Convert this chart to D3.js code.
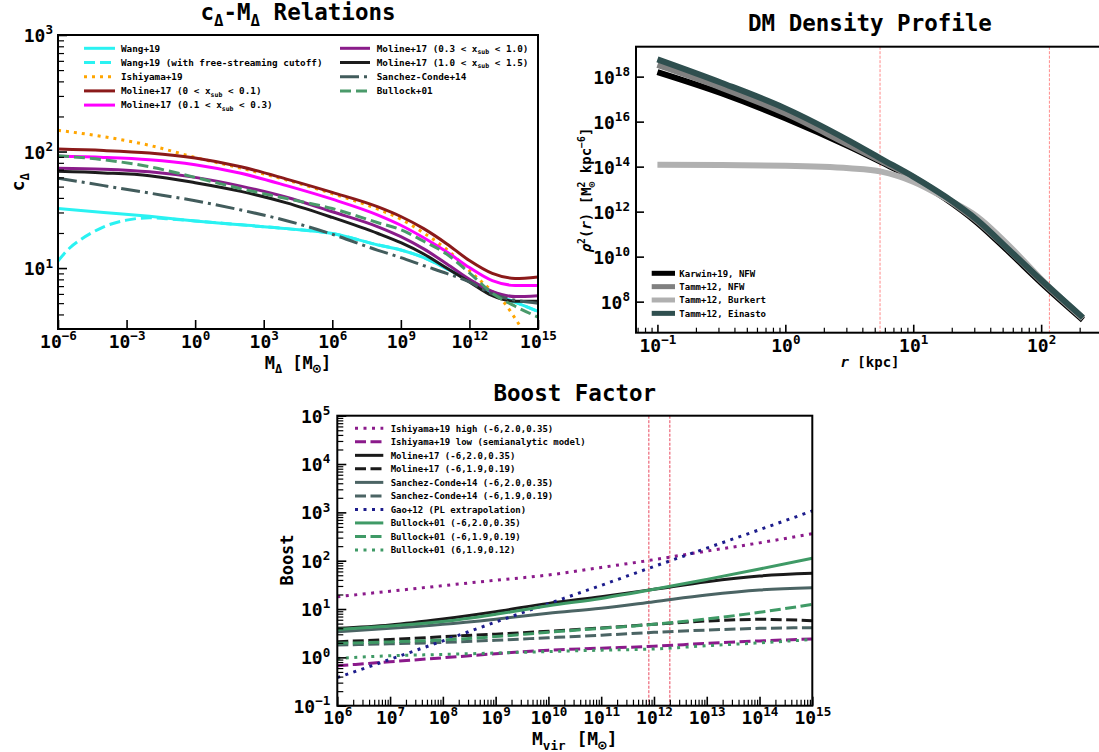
<!DOCTYPE html>
<html>
<head>
<meta charset="utf-8">
<script src="https://cdn.jsdelivr.net/npm/d3@7"></script>
<style>
  body { margin: 0; background: #fff; }
  svg { display: block; }
  svg text { font-family: "DejaVu Sans Mono", monospace; font-weight: bold; fill: #000; }
</style>
</head>
<body>
<svg id="fig" width="1099" height="752"></svg>
<script>
// ---------------- c(M) relations ----------------
const cmMass = [1e-6, 1e-4, 1e-2, 1, 1e2, 1e4, 1e6, 1e8, 1e9, 1e10, 1e11, 1e12, 1e13, 1e14, 1e15];
const cWang19     = [32.4, 30.0, 27.8, 25.4, 23.5, 21.8, 19.8, 15.8, 14.3, 12.3, 9.9, 7.8, 6.1, 5.1, 4.25];
const cMoline0    = [105, 102, 97, 88, 74, 58, 44.6, 33.5, 27.7, 21.8, 16.2, 11.6, 9.0, 8.15, 8.4];
const cMoline1    = [91, 89, 85, 77, 65, 51, 39, 28.5, 23.3, 18.2, 13.8, 10.1, 7.8, 7.1, 7.1];
const cMoline2    = [72, 70.5, 67, 60, 50.5, 40.5, 30.4, 22.6, 18.6, 14.6, 10.9, 8.0, 6.3, 5.7, 5.8];
const cMoline3    = [67.6, 65.5, 62, 54, 45.5, 36.3, 27.2, 19.8, 16.5, 13.2, 10.0, 7.6, 5.8, 5.2, 5.2];
const cSanchez14  = [59, 51, 44, 37.8, 31.5, 25.5, 19.5, 14.2, 12.3, 10.5, 9.0, 7.6, 6.0, 5.3, 5.0];
const cBullock01  = [92, 85, 74, 60, 48, 39.5, 32.4, 24.5, 21.3, 17.0, 13.2, 9.1, 6.1, 4.7, 3.8];

const wangCutMass = [1e-6, 3.16e-6, 1e-5, 3.16e-5, 1e-4, 1e-3, 1e-2, 1e-1, 1, 1e2, 1e4, 1e6, 1e8, 1e9, 1e10, 1e11, 1e12, 1e13, 1e14, 1e15];
const cWang19Cut  = [11.5, 14.8, 17.6, 20.2, 22.6, 25.8, 27.0, 26.3, 25.4, 23.5, 21.8, 19.8, 15.8, 14.3, 12.3, 9.9, 7.8, 6.1, 5.1, 4.25];

const ishiMass    = [1e-6, 1e-4, 1e-2, 1, 1e2, 1e4, 1e6, 1e8, 1e9, 1e10, 1e11, 1e12, 1e13, 3.16e13, 1e14, 3.16e14, 1e15];
const cIshiyama19 = [152, 134, 113, 89, 72, 57, 43.5, 32, 26.3, 20, 14.5, 9.5, 6.3, 5.1, 3.7, 2.6, 1.8];

// ---------------- DM density profiles (rho^2) ----------------
const radiusKpc   = [0.1, 0.316, 1, 3.16, 5.62, 10, 17.8, 31.6, 56.2, 100, 212];
const rho2Karwin  = [1.58e18, 1.82e17, 1.41e16, 7.76e14, 1.58e14, 3.02e13, 3.8e12, 3.24e11, 1.58e10, 6.92e8, 1.55e7];
const rho2TammNFW = [3.31e18, 3.24e17, 2.34e16, 9.12e14, 1.78e14, 3.39e13, 4.17e12, 3.8e11, 1.91e10, 8.32e8, 1.78e7];
const rho2Burkert = [1.2e14, 1.17e14, 1.1e14, 8.5e13, 6.0e13, 2.14e13, 3.98e12, 6.03e11, 3.02e10, 1.0e9, 1.82e7];
const rho2Einasto = [5.89e18, 5.37e17, 3.89e16, 1.41e15, 2.24e14, 3.63e13, 4.68e12, 4.27e11, 2.0e10, 9.12e8, 1.95e7];
const rhoMarkers  = [5.5, 116];

// ---------------- boost factors ----------------
const boostMass      = [1e6, 1e7, 1e8, 1e9, 1e10, 1e11, 1e12, 1e13, 1e14, 1e15];
const bIshiHigh      = [18.0, 23.4, 30.4, 39.4, 50.6, 72.4, 105, 158, 234, 363];
const bIshiLow       = [0.67, 0.81, 0.98, 1.19, 1.41, 1.55, 1.70, 1.95, 2.19, 2.40];
const bMolineA       = [3.98, 4.68, 6.21, 8.79, 13.1, 18.0, 25.6, 36.8, 48.2, 54.7];
const bMolineB       = [2.11, 2.34, 2.67, 3.02, 3.47, 4.07, 4.83, 5.66, 6.12, 5.75];
const bSanchezA      = [3.40, 3.98, 4.82, 6.17, 8.15, 10.4, 14.2, 19.5, 24.8, 27.7];
const bSanchezB      = [1.80, 1.91, 2.04, 2.26, 2.55, 2.88, 3.29, 3.67, 3.98, 4.11];
const bGao12         = [0.38, 0.91, 2.19, 5.37, 12.9, 30.9, 75.9, 182, 437, 1072];
const bBullockA      = [3.80, 4.47, 5.50, 7.76, 11.7, 16.6, 25.6, 41.1, 67.3, 112];
const bBullockB      = [1.95, 2.09, 2.29, 2.69, 3.31, 3.99, 4.83, 6.22, 8.55, 12.5];
const bBullockC      = [0.95, 1.08, 1.15, 1.23, 1.32, 1.41, 1.49, 1.74, 2.00, 2.34];
const boostMarkers   = [8e11, 2e12];

// ---------------- tick labels (powers of ten) ----------------
const cmXTicks    = [1e-6, 1e-3, 1, 1e3, 1e6, 1e9, 1e12, 1e15];
const cmYTicks    = [10, 100, 1000];
const rhoXTicks   = [0.1, 1, 10, 100];
const rhoYTicks   = [1e8, 1e10, 1e12, 1e14, 1e16, 1e18];
const boostXTicks = [1e6, 1e7, 1e8, 1e9, 1e10, 1e11, 1e12, 1e13, 1e14, 1e15];
const boostYTicks = [0.1, 1, 10, 100, 1e3, 1e4, 1e5];

// ---------------- helpers ----------------
const svg = d3.select('#fig');
const TICK_FS = 18;

// text with sub/superscript pieces
function rich(sel, parts, fs) {
  let cur = 0;
  for (const p of parts) {
    const off = p.sub ? 0.28 * fs : (p.sup ? -0.42 * fs : 0);
    const t = sel.append('tspan').text(p.t);
    if (off - cur) t.attr('dy', off - cur);
    if (p.sub || p.sup) t.attr('font-size', (p.scale || 0.7) * fs);
    if (p.it) t.attr('font-style', 'italic');
    if (p.dx) t.attr('dx', p.dx);
    cur = off;
  }
}

function powLabel(sel, v) {
  const e = Math.round(Math.log10(v));
  sel.text(null);
  rich(sel, [{ t: '10' }, { t: String(e).replace('-', '\u2212'), sup: true }], TICK_FS);
}

function minorTicks(scale) {
  const [a, b] = scale.domain();
  const out = [];
  for (let e = Math.floor(Math.log10(a)); e <= Math.ceil(Math.log10(b)); e++) {
    for (let m = 2; m <= 9; m++) {
      const v = m * Math.pow(10, e);
      if (v >= a * 1.0001 && v <= b * 0.9999) out.push(v);
    }
  }
  return out;
}

function styleAxis(ax) {
  ax.select('.domain').remove();
  ax.attr('font-size', TICK_FS).attr('font-family', null);
}

function xAxis(g, x, yPos, majors, minors, labelBase, majLen, minLen) {
  if (minors) {
    const m = g.append('g').attr('transform', `translate(0,${yPos})`)
      .call(d3.axisBottom(x).tickValues(minors).tickSize(-minLen).tickFormat(() => ''));
    styleAxis(m);
    m.selectAll('text').remove();
    m.selectAll('line').attr('stroke-width', 1.2);
  }
  const ax = g.append('g').attr('transform', `translate(0,${yPos})`)
    .call(d3.axisBottom(x).tickValues(majors).tickSize(-majLen).tickFormat(d => d));
  styleAxis(ax);
  ax.selectAll('.tick line').attr('stroke-width', 1.6);
  ax.selectAll('.tick text').attr('y', labelBase - yPos).attr('dy', null)
    .each(function (d) { powLabel(d3.select(this), d); });
}

function yAxis(g, y, xPos, majors, minors, pad, majLen, minLen) {
  if (minors) {
    const m = g.append('g').attr('transform', `translate(${xPos},0)`)
      .call(d3.axisLeft(y).tickValues(minors).tickSize(-minLen).tickFormat(() => ''));
    styleAxis(m);
    m.selectAll('text').remove();
    m.selectAll('line').attr('stroke-width', 1.2);
  }
  const ax = g.append('g').attr('transform', `translate(${xPos},0)`)
    .call(d3.axisLeft(y).tickValues(majors).tickSize(-majLen).tickFormat(d => d));
  styleAxis(ax);
  ax.selectAll('.tick line').attr('stroke-width', 1.6);
  ax.selectAll('.tick text').attr('x', -pad).attr('y', 6.5).attr('dy', null)
    .each(function (d) { powLabel(d3.select(this), d); });
}

function frame(g, x, y, id) {
  const [x0, x1] = x.range(), [y1, y0] = y.range();
  svg.append('clipPath').attr('id', id).append('rect')
    .attr('x', x0).attr('y', y0).attr('width', x1 - x0).attr('height', y1 - y0);
  const plot = g.append('g').attr('clip-path', `url(#${id})`);
  g.append('rect').attr('x', x0).attr('y', y0).attr('width', x1 - x0).attr('height', y1 - y0)
    .attr('fill', 'none').attr('stroke', '#000').attr('stroke-width', 2);
  return plot;
}

function drawLine(plot, x, y, xs, ys, s) {
  const line = d3.line().x((d, i) => x(xs[i])).y(d => y(d)).curve(d3.curveMonotoneX);
  plot.append('path').datum(ys).attr('d', line)
    .attr('fill', 'none').attr('stroke', s.color).attr('stroke-width', s.lw)
    .attr('stroke-dasharray', s.dash || null).attr('stroke-linejoin', 'round');
}

function legendRow(g, x1, x2, tx, yc, s, parts, fs) {
  g.append('line').attr('x1', x1).attr('x2', x2).attr('y1', yc).attr('y2', yc)
    .attr('stroke', s.color).attr('stroke-width', s.lw).attr('stroke-dasharray', s.dash || null);
  const t = g.append('text').attr('x', tx).attr('y', yc + 3.3).attr('font-size', fs);
  rich(t, parts, fs);
}

const DASH = '11 5', DOT = '3 5', DASHDOT = '19 5 3 5';

// ================= panel 1: concentration-mass =================
{
  const g = svg.append('g');
  const x = d3.scaleLog().domain([1e-6, 1e15]).range([58, 538]);
  const y = d3.scaleLog().domain([3, 1000]).range([329, 35]);
  const plot = frame(g, x, y, 'clip-cm');

  const xsub = (a, b) => [{ t: 'Moline+17 (' + a + ' < x' }, { t: 'sub', sub: true }, { t: ' < ' + b + ')' }];
  const series = [
    { xs: cmMass, ys: cWang19, color: '#2af2f2', lw: 3, label: [{ t: 'Wang+19' }] },
    { xs: wangCutMass, ys: cWang19Cut, color: '#2af2f2', lw: 3, dash: DASH, label: [{ t: 'Wang+19 (with free-streaming cutoff)' }] },
    { xs: ishiMass, ys: cIshiyama19, color: '#ffa500', lw: 3, dash: DOT, label: [{ t: 'Ishiyama+19' }] },
    { xs: cmMass, ys: cMoline0, color: '#8b1a1a', lw: 3, label: xsub('0', '0.1') },
    { xs: cmMass, ys: cMoline1, color: '#ff00ff', lw: 3, label: xsub('0.1', '0.3') },
    { xs: cmMass, ys: cMoline2, color: '#8a1c8a', lw: 3, label: xsub('0.3', '1.0') },
    { xs: cmMass, ys: cMoline3, color: '#1c1c1c', lw: 3, label: xsub('1.0', '1.5') },
    { xs: cmMass, ys: cSanchez14, color: '#425c5c', lw: 3, dash: DASHDOT, label: [{ t: 'Sanchez-Conde+14' }] },
    { xs: cmMass, ys: cBullock01, color: '#4a9a6a', lw: 3, dash: DASH, label: [{ t: 'Bullock+01' }] }
  ];
  series.forEach(s => drawLine(plot, x, y, s.xs, s.ys, s));

  xAxis(g, x, 329, cmXTicks, null, 348, 9, 5);
  yAxis(g, y, 58, cmYTicks, minorTicks(y), 5, 9, 6);

  series.forEach((s, i) => {
    const col = i < 5 ? 0 : 1, row = i < 5 ? i : i - 5;
    const yc = 48.3 + row * 14.2;
    if (col === 0) legendRow(g, 84, 115, 121, yc, s, s.label, 9.3);
    else legendRow(g, 340, 370, 376.7, yc, s, s.label, 9.3);
  });

  const title = g.append('text').attr('x', 298).attr('y', 20).attr('text-anchor', 'middle').attr('font-size', 22.5);
  rich(title, [{ t: 'c' }, { t: '\u0394', sub: true }, { t: '-M' }, { t: '\u0394', sub: true }, { t: ' Relations' }], 22.5);

  const xl = g.append('text').attr('x', 298).attr('y', 368.5).attr('text-anchor', 'middle').attr('font-size', 17);
  rich(xl, [{ t: 'M' }, { t: '\u0394', sub: true }, { t: ' [M' }, { t: '\u2299', sub: true, scale: 0.8 }, { t: ']' }], 17);

  const yl = g.append('text').attr('transform', 'translate(24,182) rotate(-90)').attr('text-anchor', 'middle').attr('font-size', 18);
  rich(yl, [{ t: 'c' }, { t: '\u0394', sub: true }], 18);
}

// ================= panel 2: density profile =================
{
  const g = svg.append('g');
  const x = d3.scaleLog().domain([0.068, 310]).range([636, 1104]);
  const y = d3.scaleLog().domain([4.17e6, 2.14e19]).range([332.7, 46.7]);
  const plot = frame(g, x, y, 'clip-rho');

  rhoMarkers.forEach(r => {
    plot.append('line').attr('x1', x(r)).attr('x2', x(r)).attr('y1', 46.7).attr('y2', 332.7)
      .attr('stroke', '#ff8a8a').attr('stroke-width', 1).attr('stroke-dasharray', '3 1.5');
  });

  const series = [
    { ys: rho2Karwin, color: '#000000', lw: 6, label: 'Karwin+19, NFW' },
    { ys: rho2TammNFW, color: '#808080', lw: 6, label: 'Tamm+12, NFW' },
    { ys: rho2Burkert, color: '#b0b0b0', lw: 6, label: 'Tamm+12, Burkert' },
    { ys: rho2Einasto, color: '#2f4f4f', lw: 6, label: 'Tamm+12, Einasto' }
  ];
  series.forEach(s => drawLine(plot, x, y, radiusKpc, s.ys, s));

  xAxis(g, x, 332.7, rhoXTicks, minorTicks(x), 351.7, 8, 5);
  yAxis(g, y, 636, rhoYTicks, null, 6, 8, 5);

  series.forEach((s, i) => legendRow(g, 651.7, 675, 679.3, 273.3 + i * 13.35, { color: s.color, lw: 5 }, [{ t: s.label }], 9));

  g.append('text').attr('x', 870).attr('y', 31).attr('text-anchor', 'middle').attr('font-size', 22.5).text('DM Density Profile');

  const xl = g.append('text').attr('x', 870).attr('y', 367).attr('text-anchor', 'middle').attr('font-size', 14);
  rich(xl, [{ t: 'r', it: true }, { t: ' [kpc]' }], 14);

  const yl = g.append('text').attr('transform', 'translate(591,190) rotate(-90)').attr('text-anchor', 'middle').attr('font-size', 14);
  rich(yl, [{ t: '\u03c1', it: true }, { t: '2', sup: true }, { t: '(' }, { t: 'r', it: true }, { t: ') [M' },
            { t: '2', sup: true }, { t: '\u2299', sub: true, dx: -6 }, { t: ' kpc' }, { t: '\u22126', sup: true }, { t: ']' }], 14);
}

// ================= panel 3: boost factor =================
{
  const g = svg.append('g');
  const x = d3.scaleLog().domain([1e6, 1e15]).range([337.3, 812.3]);
  const y = d3.scaleLog().domain([0.1, 1e5]).range([705.7, 415.7]);
  const plot = frame(g, x, y, 'clip-boost');

  boostMarkers.forEach(m => {
    plot.append('line').attr('x1', x(m)).attr('x2', x(m)).attr('y1', 415.7).attr('y2', 705.7)
      .attr('stroke', '#e8465c').attr('stroke-width', 1).attr('stroke-dasharray', '3 1.5');
  });

  const P = '#8b1a8b', K = '#1a1a1a', S = '#4b6464', N = '#1c1c8c', G = '#3f9a66';
  const BD = '11 4.5', BO = '3 5.5';
  const series = [
    { ys: bIshiHigh, color: P, lw: 3, dash: BO, label: 'Ishiyama+19 high (-6,2.0,0.35)' },
    { ys: bIshiLow, color: P, lw: 3, dash: BD, label: 'Ishiyama+19 low (semianalytic model)' },
    { ys: bMolineA, color: K, lw: 3, label: 'Moline+17 (-6,2.0,0.35)' },
    { ys: bMolineB, color: K, lw: 3, dash: BD, label: 'Moline+17 (-6,1.9,0.19)' },
    { ys: bSanchezA, color: S, lw: 3, label: 'Sanchez-Conde+14 (-6,2.0,0.35)' },
    { ys: bSanchezB, color: S, lw: 3, dash: BD, label: 'Sanchez-Conde+14 (-6,1.9,0.19)' },
    { ys: bGao12, color: N, lw: 3, dash: BO, label: 'Gao+12 (PL extrapolation)' },
    { ys: bBullockA, color: G, lw: 3, label: 'Bullock+01 (-6,2.0,0.35)' },
    { ys: bBullockB, color: G, lw: 3, dash: BD, label: 'Bullock+01 (-6,1.9,0.19)' },
    { ys: bBullockC, color: G, lw: 3, dash: BO, label: 'Bullock+01 (6,1.9,0.12)' }
  ];
  series.forEach(s => drawLine(plot, x, y, boostMass, s.ys, s));

  xAxis(g, x, 705.7, boostXTicks, minorTicks(x), 724, 9, 6);
  yAxis(g, y, 337.3, boostYTicks, minorTicks(y), 7, 9, 6);

  series.forEach((s, i) => legendRow(g, 355, 383.3, 390.7, 428.3 + i * 13.52, s, [{ t: s.label }], 9));

  g.append('text').attr('x', 574.8).attr('y', 401).attr('text-anchor', 'middle').attr('font-size', 22.5).text('Boost Factor');

  const xl = g.append('text').attr('x', 574.8).attr('y', 745).attr('text-anchor', 'middle').attr('font-size', 18);
  rich(xl, [{ t: 'M' }, { t: 'vir', sub: true }, { t: ' [M' }, { t: '\u2299', sub: true, scale: 0.8 }, { t: ']' }], 18);

  g.append('text').attr('transform', 'translate(293,560) rotate(-90)').attr('text-anchor', 'middle').attr('font-size', 17).text('Boost');
}
</script>
</body>
</html>
